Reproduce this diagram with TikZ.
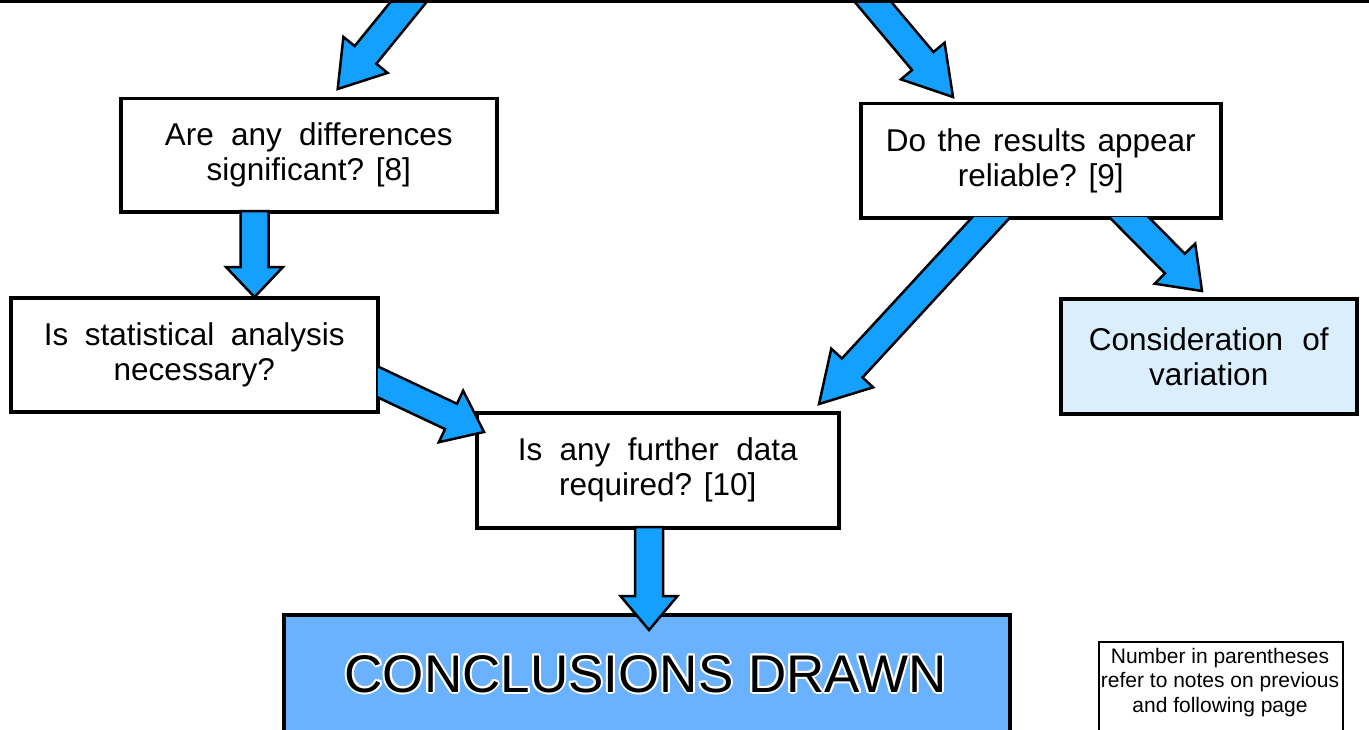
\documentclass[tikz,border=0pt]{standalone}
\usepackage{fontspec}
\setmainfont{Liberation Sans}
\usetikzlibrary{calc}
\definecolor{arrowblue}{RGB}{20,160,255}
\definecolor{concblue}{RGB}{106,178,255}
\definecolor{palblue}{RGB}{218,238,252}
\tikzset{
  qbox/.style={draw=black, line width=3.5bp, fill=white, rectangle, inner sep=0pt,
    align=center, font=\fontsize{31.5bp}{35bp}\selectfont, anchor=north west},
  blockarr/.style={draw=black, line width=2.5bp, fill=arrowblue, line join=miter},
  conctext/.style={font=\fontsize{53bp}{60bp}\selectfont, anchor=base, inner sep=0pt},
}
\newcommand\blockarrow[3]{%
  \draw[blockarr] let \p1=($(#2)!#3!(#1)$) in
   ($(#1)!14bp!90:(#2)$) -- ($(\p1)!14bp!90:(#2)$) -- ($(\p1)!28.5bp!90:(#2)$) -- (#2)
   -- ($(\p1)!28.5bp!-90:(#2)$) -- ($(\p1)!14bp!-90:(#2)$) -- ($(#1)!14bp!-90:(#2)$) -- cycle;}
\begin{document}
\begin{tikzpicture}[x=1bp,y=-1bp]
\useasboundingbox (0,0) rectangle (1369,729);
\clip (0,0) rectangle (1369,729);
\fill[white] (0,0) rectangle (1369,729);

% boxes
\node[qbox, minimum width=376bp, minimum height=113bp] (q8) at (119,97)
  {\makebox[288bp][s]{Are any differences}\\significant? [8]};
\node[qbox, minimum width=360bp, minimum height=114bp] (q9) at (859,102)
  {\makebox[310bp][s]{Do the results appear}\\reliable? [9]};
\node[qbox, minimum width=367bp, minimum height=114bp] (qs) at (9,296)
  {\makebox[301bp][s]{Is statistical analysis}\\necessary?};
\node[qbox, fill=palblue, minimum width=296bp, minimum height=115bp] (var) at (1059,297)
  {\makebox[240bp][s]{Consideration of}\\variation};
\node[qbox, minimum width=362bp, minimum height=115bp] (q10) at (475,411)
  {\makebox[280bp][s]{Is any further data}\\required? [10]};
\node[qbox, fill=concblue, minimum width=726bp, minimum height=160bp] (conc) at (282,613) {};
\node[qbox, line width=2bp, minimum width=244bp, minimum height=120bp] (notes) at (1098,641) {};

% conclusions text with white halo
\foreach \dx/\dy [count=\i] in {2/0,-2/0,0/2,0/-2,1.5/1.5,-1.5/1.5,1.5/-1.5,-1.5/-1.5}
  \node[conctext, text=white] (ch\i) at ($(645.5,692)+(\dx,\dy)$) {CONCLUSIONS DRAWN};
\node[conctext, text=black] (ctext) at (645.5,692) {CONCLUSIONS DRAWN};

% notes text
\node[anchor=north, inner sep=0pt, align=center, font=\fontsize{21bp}{24.5bp}\selectfont]
  (notetxt) at (1220,648) {Number in parentheses\\refer to notes on previous\\and following page};

% arrow end points
\coordinate (aA1) at (420,-12);   \coordinate (aA2) at (337.7,89);
\coordinate (aB1) at (863,-10);   \coordinate (aB2) at (953,97);
\coordinate (aC1) at (254.5,211); \coordinate (aC2) at (254.5,297);
\coordinate (aD1) at (649,527);   \coordinate (aD2) at (649,630);
\coordinate (aE1) at (360,373.5); \coordinate (aE2) at (484,432);
\coordinate (aF1) at (1009,198);  \coordinate (aF2) at (819,404);
\coordinate (aG1) at (1110,198);  \coordinate (aG2) at (1202,291);

\blockarrow{aA1}{aA2}{44bp}
\blockarrow{aB1}{aB2}{47bp}
\blockarrow{aC1}{aC2}{30bp}
\blockarrow{aD1}{aD2}{34bp}
\begin{scope}
  \clip (377.75,0) rectangle (1369,729);
  \blockarrow{aE1}{aE2}{36.5bp}
\end{scope}
\begin{scope}
  \clip (0,217.75) rectangle (1369,729);
  \blockarrow{aF1}{aF2}{49bp}
  \blockarrow{aG1}{aG2}{38.5bp}
\end{scope}

% top border line
\draw[line width=3.5bp] (0,1.5) -- (1369,1.5);
\end{tikzpicture}
\end{document}
